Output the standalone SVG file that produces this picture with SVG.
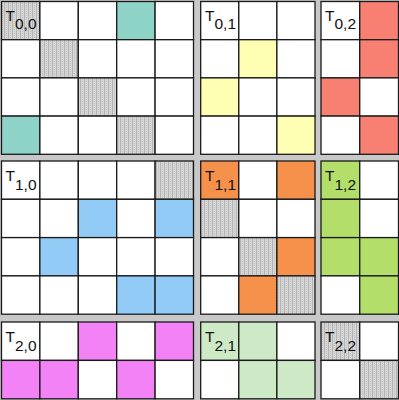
<svg xmlns="http://www.w3.org/2000/svg" width="399" height="400" viewBox="0 0 399 400">
<defs>
<pattern id="hatch" width="4" height="4" patternUnits="userSpaceOnUse">
<rect width="4" height="4" fill="#d6d6d6"/>
<rect x="0" y="0" width="1" height="4" fill="#b4b4b4"/>
<rect x="2" y="1" width="1" height="1" fill="#bdbdbd"/>
<rect x="2" y="3" width="1" height="1" fill="#c2c2c2"/>
</pattern>
</defs>
<style>
rect.c{stroke:#1a1a1a;stroke-width:1.3}
.w{fill:#ffffff}
.g{fill:url(#hatch)}
.tl{fill:#8dd3c7}
.y{fill:#ffffb3}
.s{fill:#f88072}
.b{fill:#92cbf5}
.o{fill:#f5914b}
.gr{fill:#b3de69}
.m{fill:#f282f5}
.lg{fill:#cde9c6}
text{font-family:"Liberation Sans",Arial,sans-serif;font-size:15.5px;fill:#111}
</style>
<rect x="0" y="0" width="399" height="400" fill="#c8c8c8"/>

<g id="tile-0-0">
<rect class="c g" x="1.5" y="1.5" width="38.4" height="38.2"/>
<rect class="c w" x="39.9" y="1.5" width="38.4" height="38.2"/>
<rect class="c w" x="78.3" y="1.5" width="38.4" height="38.2"/>
<rect class="c tl" x="116.7" y="1.5" width="38.4" height="38.2"/>
<rect class="c w" x="155.1" y="1.5" width="38.4" height="38.2"/>
<rect class="c w" x="1.5" y="39.7" width="38.4" height="38.2"/>
<rect class="c g" x="39.9" y="39.7" width="38.4" height="38.2"/>
<rect class="c w" x="78.3" y="39.7" width="38.4" height="38.2"/>
<rect class="c w" x="116.7" y="39.7" width="38.4" height="38.2"/>
<rect class="c w" x="155.1" y="39.7" width="38.4" height="38.2"/>
<rect class="c w" x="1.5" y="77.9" width="38.4" height="38.2"/>
<rect class="c w" x="39.9" y="77.9" width="38.4" height="38.2"/>
<rect class="c g" x="78.3" y="77.9" width="38.4" height="38.2"/>
<rect class="c w" x="116.7" y="77.9" width="38.4" height="38.2"/>
<rect class="c w" x="155.1" y="77.9" width="38.4" height="38.2"/>
<rect class="c tl" x="1.5" y="116.1" width="38.4" height="38.2"/>
<rect class="c w" x="39.9" y="116.1" width="38.4" height="38.2"/>
<rect class="c w" x="78.3" y="116.1" width="38.4" height="38.2"/>
<rect class="c g" x="116.7" y="116.1" width="38.4" height="38.2"/>
<rect class="c w" x="155.1" y="116.1" width="38.4" height="38.2"/>
<text x="5.5" y="20.5">T<tspan dy="8.8">0,0</tspan></text>
</g>

<g id="tile-0-1">
<rect class="c w" x="200.7" y="1.5" width="38.1" height="38.2"/>
<rect class="c w" x="238.8" y="1.5" width="38.1" height="38.2"/>
<rect class="c w" x="276.9" y="1.5" width="38.1" height="38.2"/>
<rect class="c w" x="200.7" y="39.7" width="38.1" height="38.2"/>
<rect class="c y" x="238.8" y="39.7" width="38.1" height="38.2"/>
<rect class="c w" x="276.9" y="39.7" width="38.1" height="38.2"/>
<rect class="c y" x="200.7" y="77.9" width="38.1" height="38.2"/>
<rect class="c w" x="238.8" y="77.9" width="38.1" height="38.2"/>
<rect class="c w" x="276.9" y="77.9" width="38.1" height="38.2"/>
<rect class="c w" x="200.7" y="116.1" width="38.1" height="38.2"/>
<rect class="c w" x="238.8" y="116.1" width="38.1" height="38.2"/>
<rect class="c y" x="276.9" y="116.1" width="38.1" height="38.2"/>
<text x="205" y="20.5">T<tspan dy="8.8">0,1</tspan></text>
</g>

<g id="tile-0-2">
<rect class="c w" x="321" y="1.5" width="38.75" height="38.2"/>
<rect class="c s" x="359.75" y="1.5" width="38.75" height="38.2"/>
<rect class="c w" x="321" y="39.7" width="38.75" height="38.2"/>
<rect class="c s" x="359.75" y="39.7" width="38.75" height="38.2"/>
<rect class="c s" x="321" y="77.9" width="38.75" height="38.2"/>
<rect class="c w" x="359.75" y="77.9" width="38.75" height="38.2"/>
<rect class="c w" x="321" y="116.1" width="38.75" height="38.2"/>
<rect class="c s" x="359.75" y="116.1" width="38.75" height="38.2"/>
<text x="325" y="20.5">T<tspan dy="8.8">0,2</tspan></text>
</g>

<g id="tile-1-0">
<rect class="c w" x="1.5" y="161" width="38.4" height="38.3"/>
<rect class="c w" x="39.9" y="161" width="38.4" height="38.3"/>
<rect class="c w" x="78.3" y="161" width="38.4" height="38.3"/>
<rect class="c w" x="116.7" y="161" width="38.4" height="38.3"/>
<rect class="c g" x="155.1" y="161" width="38.4" height="38.3"/>
<rect class="c w" x="1.5" y="199.3" width="38.4" height="38.3"/>
<rect class="c w" x="39.9" y="199.3" width="38.4" height="38.3"/>
<rect class="c b" x="78.3" y="199.3" width="38.4" height="38.3"/>
<rect class="c w" x="116.7" y="199.3" width="38.4" height="38.3"/>
<rect class="c b" x="155.1" y="199.3" width="38.4" height="38.3"/>
<rect class="c w" x="1.5" y="237.6" width="38.4" height="38.3"/>
<rect class="c b" x="39.9" y="237.6" width="38.4" height="38.3"/>
<rect class="c w" x="78.3" y="237.6" width="38.4" height="38.3"/>
<rect class="c w" x="116.7" y="237.6" width="38.4" height="38.3"/>
<rect class="c w" x="155.1" y="237.6" width="38.4" height="38.3"/>
<rect class="c w" x="1.5" y="275.9" width="38.4" height="38.3"/>
<rect class="c w" x="39.9" y="275.9" width="38.4" height="38.3"/>
<rect class="c w" x="78.3" y="275.9" width="38.4" height="38.3"/>
<rect class="c b" x="116.7" y="275.9" width="38.4" height="38.3"/>
<rect class="c b" x="155.1" y="275.9" width="38.4" height="38.3"/>
<text x="5.5" y="181">T<tspan dy="8.8">1,0</tspan></text>
</g>

<g id="tile-1-1">
<rect class="c o" x="200.7" y="161" width="38.1" height="38.3"/>
<rect class="c w" x="238.8" y="161" width="38.1" height="38.3"/>
<rect class="c o" x="276.9" y="161" width="38.1" height="38.3"/>
<rect class="c g" x="200.7" y="199.3" width="38.1" height="38.3"/>
<rect class="c w" x="238.8" y="199.3" width="38.1" height="38.3"/>
<rect class="c w" x="276.9" y="199.3" width="38.1" height="38.3"/>
<rect class="c w" x="200.7" y="237.6" width="38.1" height="38.3"/>
<rect class="c g" x="238.8" y="237.6" width="38.1" height="38.3"/>
<rect class="c o" x="276.9" y="237.6" width="38.1" height="38.3"/>
<rect class="c w" x="200.7" y="275.9" width="38.1" height="38.3"/>
<rect class="c o" x="238.8" y="275.9" width="38.1" height="38.3"/>
<rect class="c g" x="276.9" y="275.9" width="38.1" height="38.3"/>
<text x="205" y="181">T<tspan dy="8.8">1,1</tspan></text>
</g>

<g id="tile-1-2">
<rect class="c gr" x="321" y="161" width="38.75" height="38.3"/>
<rect class="c w" x="359.75" y="161" width="38.75" height="38.3"/>
<rect class="c gr" x="321" y="199.3" width="38.75" height="38.3"/>
<rect class="c w" x="359.75" y="199.3" width="38.75" height="38.3"/>
<rect class="c gr" x="321" y="237.6" width="38.75" height="38.3"/>
<rect class="c gr" x="359.75" y="237.6" width="38.75" height="38.3"/>
<rect class="c w" x="321" y="275.9" width="38.75" height="38.3"/>
<rect class="c gr" x="359.75" y="275.9" width="38.75" height="38.3"/>
<text x="325" y="181">T<tspan dy="8.8">1,2</tspan></text>
</g>

<g id="tile-2-0">
<rect class="c w" x="1.5" y="322" width="38.4" height="38.4"/>
<rect class="c w" x="39.9" y="322" width="38.4" height="38.4"/>
<rect class="c m" x="78.3" y="322" width="38.4" height="38.4"/>
<rect class="c w" x="116.7" y="322" width="38.4" height="38.4"/>
<rect class="c m" x="155.1" y="322" width="38.4" height="38.4"/>
<rect class="c m" x="1.5" y="360.4" width="38.4" height="38.4"/>
<rect class="c m" x="39.9" y="360.4" width="38.4" height="38.4"/>
<rect class="c w" x="78.3" y="360.4" width="38.4" height="38.4"/>
<rect class="c m" x="116.7" y="360.4" width="38.4" height="38.4"/>
<rect class="c w" x="155.1" y="360.4" width="38.4" height="38.4"/>
<text x="5.5" y="342">T<tspan dy="8.8">2,0</tspan></text>
</g>

<g id="tile-2-1">
<rect class="c lg" x="200.7" y="322" width="38.1" height="38.4"/>
<rect class="c lg" x="238.8" y="322" width="38.1" height="38.4"/>
<rect class="c w" x="276.9" y="322" width="38.1" height="38.4"/>
<rect class="c w" x="200.7" y="360.4" width="38.1" height="38.4"/>
<rect class="c lg" x="238.8" y="360.4" width="38.1" height="38.4"/>
<rect class="c lg" x="276.9" y="360.4" width="38.1" height="38.4"/>
<text x="205" y="342">T<tspan dy="8.8">2,1</tspan></text>
</g>

<g id="tile-2-2">
<rect class="c g" x="321" y="322" width="38.75" height="38.4"/>
<rect class="c w" x="359.75" y="322" width="38.75" height="38.4"/>
<rect class="c w" x="321" y="360.4" width="38.75" height="38.4"/>
<rect class="c g" x="359.75" y="360.4" width="38.75" height="38.4"/>
<text x="325" y="342">T<tspan dy="8.8">2,2</tspan></text>
</g>

<g id="connectors"></g>
</svg>
